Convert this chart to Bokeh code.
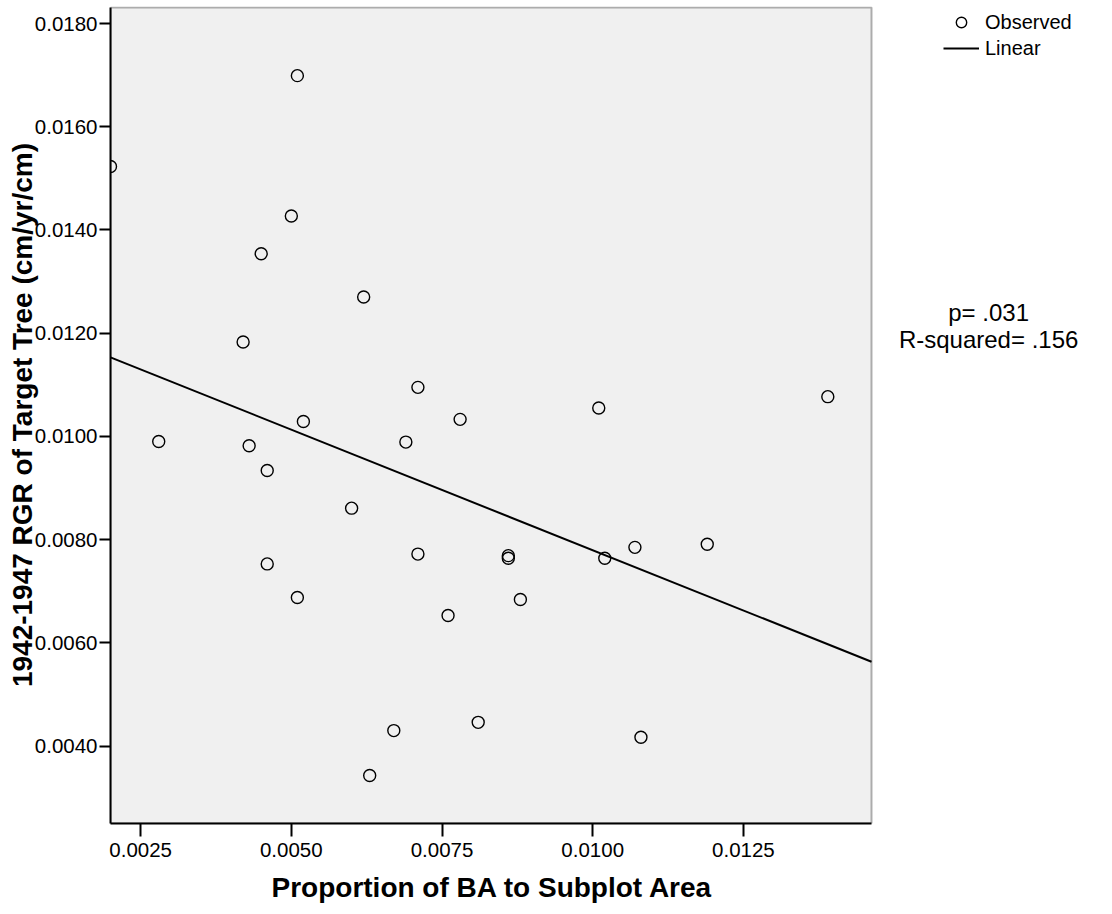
from bokeh.plotting import figure
from bokeh.models import (Range1d, FixedTicker, NumeralTickFormatter, Legend,
                          LegendItem, Label, BoxAnnotation, Title)
from bokeh.embed import file_html
from bokeh.resources import INLINE

# ---- data ----
ba_proportion = [0.0020, 0.0051, 0.0050, 0.0045, 0.0062, 0.0042, 0.0052, 0.0028,
                 0.0043, 0.0071, 0.0078, 0.0069, 0.0101, 0.0139, 0.0107, 0.0102,
                 0.0119, 0.0108, 0.0046, 0.0060, 0.0046, 0.0051, 0.0067, 0.0063,
                 0.0071, 0.0086, 0.0086, 0.0088, 0.0076, 0.0081]
rgr = [0.01523, 0.01699, 0.01427, 0.01354, 0.01270, 0.01183, 0.01029, 0.00990,
       0.00982, 0.01095, 0.01033, 0.00989, 0.01055, 0.01077, 0.00785, 0.00764,
       0.00791, 0.00417, 0.00934, 0.00861, 0.00753, 0.00688, 0.00430, 0.00343,
       0.00772, 0.00769, 0.00764, 0.00684, 0.00653, 0.00446]
fit_x = [0.0020, 0.014625]
fit_y = [0.011532, 0.005634]
x_ticks = [0.0025, 0.0050, 0.0075, 0.0100, 0.0125]
y_ticks = [0.0040, 0.0060, 0.0080, 0.0100, 0.0120, 0.0140, 0.0160, 0.0180]
stats_lines = ["p= .031", "R-squared= .156"]
stats_x = 0.016568
stats_y = [0.012404, 0.01187]

# plot-area limits (data units) and the wider canvas area used for legend/stats
X_MIN, X_MAX = 0.0020, 0.014625
Y_MIN, Y_MAX = 0.0025, 0.01831
X_VIEW_END = 0.018623
Y_VIEW_END = 0.0183294

FONT = "Liberation Sans"

p = figure(width=1112, height=914, output_backend="svg", toolbar_location=None,
           x_range=Range1d(X_MIN, X_VIEW_END), y_range=Range1d(Y_MIN, Y_VIEW_END),
           min_border_left=110, min_border_right=0, min_border_top=6,
           min_border_bottom=91)

p.background_fill_color = "white"
p.border_fill_color = "white"
p.outline_line_color = None
p.xgrid.visible = False
p.ygrid.visible = False

area = BoxAnnotation(left=X_MIN, right=X_MAX, bottom=Y_MIN, top=Y_MAX,
                     fill_color="#F0F0F0", fill_alpha=1.0,
                     line_color="black", line_width=2, level="underlay")
p.add_layout(area)

r_pts = p.scatter(ba_proportion, rgr, marker="circle", size=12, fill_color=None,
                  line_color="black", line_width=1.4)
r_line = p.line(fit_x, fit_y, line_color="black", line_width=2)

for ax in (p.xaxis[0], p.yaxis[0]):
    ax.axis_line_color = "black"
    ax.axis_line_width = 2
    ax.major_tick_line_color = "black"
    ax.major_tick_line_width = 2
    ax.major_tick_in = 0
    ax.minor_tick_line_color = None
    ax.major_label_text_font = FONT
    ax.major_label_text_font_size = "20.5px"
    ax.major_label_text_color = "black"
    ax.axis_label_text_font = FONT
    ax.axis_label_text_font_size = "28px"
    ax.axis_label_text_font_style = "bold"
    ax.axis_label_text_color = "black"
    ax.formatter = NumeralTickFormatter(format="0.0000")

p.xaxis[0].ticker = FixedTicker(ticks=x_ticks)
p.yaxis[0].ticker = FixedTicker(ticks=y_ticks)
p.xaxis[0].bounds = (X_MIN, X_MAX)
p.yaxis[0].bounds = (Y_MIN, Y_MAX)
p.xaxis[0].major_tick_out = 13
p.yaxis[0].major_tick_out = 11
p.xaxis[0].major_label_standoff = 6
p.yaxis[0].major_label_standoff = 2
p.yaxis[0].axis_label = "1942-1947 RGR of Target Tree (cm/yr/cm)"
p.yaxis[0].axis_label_standoff = -6

x_title = Title(text="Proportion of BA to Subplot Area", align="left", offset=161,
                text_font=FONT, text_font_size="28px", text_font_style="bold",
                text_color="black", standoff=20)
p.add_layout(x_title, "below")

legend = Legend(items=[LegendItem(label="Observed", renderers=[r_pts]),
                       LegendItem(label="Linear", renderers=[r_line])],
                location=(833, 762), padding=0, margin=0, spacing=0,
                glyph_width=36, glyph_height=26, label_height=26,
                label_standoff=6, label_text_font=FONT,
                label_text_font_size="20px", label_text_color="black",
                border_line_color=None, background_fill_alpha=0)
p.add_layout(legend)

for txt, yy in zip(stats_lines, stats_y):
    p.add_layout(Label(x=stats_x, y=yy, text=txt, text_align="center",
                       text_baseline="alphabetic", text_font=FONT,
                       text_font_size="24px", text_color="black"))

open("out.html", "w").write(file_html(p, INLINE))
